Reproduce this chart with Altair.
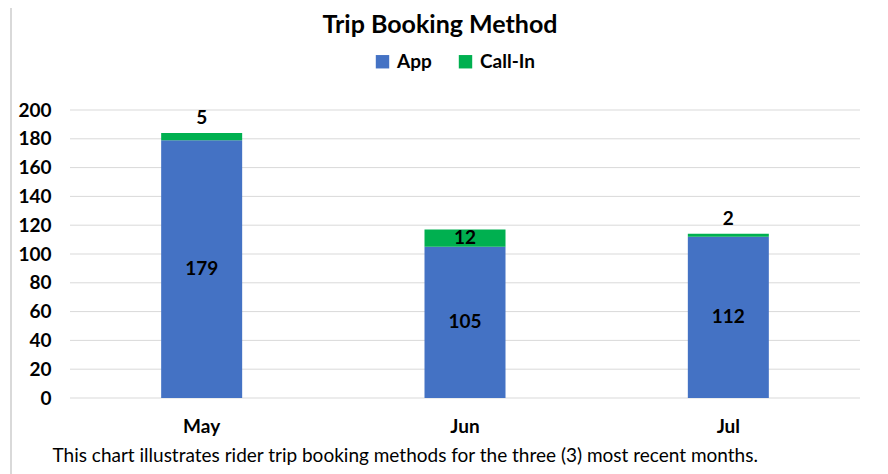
import altair as alt
import pandas as pd

months = ["May", "Jun", "Jul"]
app = [179, 105, 112]
call_in = [5, 12, 2]
series = ["App", "Call-In"]
colors = ["#4472C4", "#00B050"]
y_ticks = [0, 20, 40, 60, 80, 100, 120, 140, 160, 180, 200]

rows = []
for m, a, c in zip(months, app, call_in):
    rows.append({"month": m, "series": "App", "value": a, "start": 0, "end": a, "ord": 0})
    rows.append({"month": m, "series": "Call-In", "value": c, "start": a, "end": a + c, "ord": 1})
df = pd.DataFrame(rows)
df["mid"] = (df["start"] + df["end"]) / 2
ticks_df = pd.DataFrame({"tick": y_ticks})

FONT = "Lato"
FS = 19

x_axis = alt.Axis(labelAngle=0, labelFontWeight="bold", labelFontSize=FS, labelColor="#000",
                  labelPadding=19, ticks=False, domain=False, grid=False,
                  titleFontWeight="normal", titleFontSize=FS, titleColor="#000",
                  titleAnchor="start", titleAlign="left", titleBaseline="alphabetic",
                  titleX=-18, titleY=63)
caption = "This chart illustrates rider trip booking methods for the three (3) most recent months."
x_scale = alt.Scale(paddingInner=0.69, paddingOuter=0.345)
y_axis = alt.Axis(values=y_ticks, title=None, labelFontWeight="bold", labelFontSize=FS,
                  labelColor="#000", labelPadding=19, ticks=False, domain=False,
                  labelOverlap=False, grid=False)
y_scale = alt.Scale(domain=[0, 200])

def X():
    return alt.X("month:N", sort=months, title=caption, scale=x_scale, axis=x_axis)

grid = alt.Chart(ticks_df).mark_rule(color="#D9D9D9", strokeWidth=1).encode(
    y=alt.Y("tick:Q", scale=y_scale, axis=y_axis),
)

base = alt.Chart(df)

bars = base.mark_bar(size=81).encode(
    x=X(),
    y=alt.Y("start:Q", scale=y_scale, axis=y_axis),
    y2="end:Q",
    color=alt.Color("series:N", scale=alt.Scale(domain=series, range=colors),
                    legend=alt.Legend(title=None, orient="none", direction="horizontal",
                                      legendX=303, legendY=-58, symbolType="square", symbolSize=180,
                                      symbolStrokeWidth=0, labelFontSize=FS, labelFontWeight="bold",
                                      labelColor="#000", columnPadding=24, labelOffset=5)),
    order=alt.Order("ord:Q"),
)

mid_labels = base.mark_text(fontSize=FS, fontWeight="bold", color="#000").encode(
    x=X(),
    y=alt.Y("mid:Q", scale=y_scale, axis=y_axis),
    text="value:Q",
).transform_filter("datum.series == 'App' || datum.value >= 10")

top_labels = base.mark_text(fontSize=FS, fontWeight="bold", color="#000", baseline="bottom", dy=-5).encode(
    x=X(),
    y=alt.Y("end:Q", scale=y_scale, axis=y_axis),
    text="value:Q",
).transform_filter("datum.series == 'Call-In' && datum.value < 10")

fdf = pd.DataFrame({"k": [0]})
top_line = alt.Chart(fdf).mark_rect(color="#D9D9D9").encode(
    x=alt.value(-59), x2=alt.value(830), y=alt.value(-106), y2=alt.value(-104)
)
left_line = alt.Chart(fdf).mark_rect(color="#D9D9D9").encode(
    x=alt.value(-60), x2=alt.value(-58), y=alt.value(-106), y2=alt.value(366)
)
outer_line = alt.Chart(fdf).mark_rect(color="#E0E0E0").encode(
    x=alt.value(-67), x2=alt.value(-65), y=alt.value(-106), y2=alt.value(366)
)

chart = alt.layer(top_line, left_line, outer_line, grid, bars, mid_labels, top_labels).properties(
    width=790, height=288,
    title=alt.TitleParams("Trip Booking Method", fontSize=25, fontWeight="bold", color="#000",
                          anchor="middle", dx=-25, offset=-34),
    padding={"left": 62, "top": 102, "right": 10, "bottom": 76},
    autosize=alt.AutoSizeParams(type="none"),
).configure(font=FONT).configure_view(stroke=None).configure_axisY(labelOverlap=False)

chart.save("out.html", embed_options={"renderer": "svg", "actions": False})
